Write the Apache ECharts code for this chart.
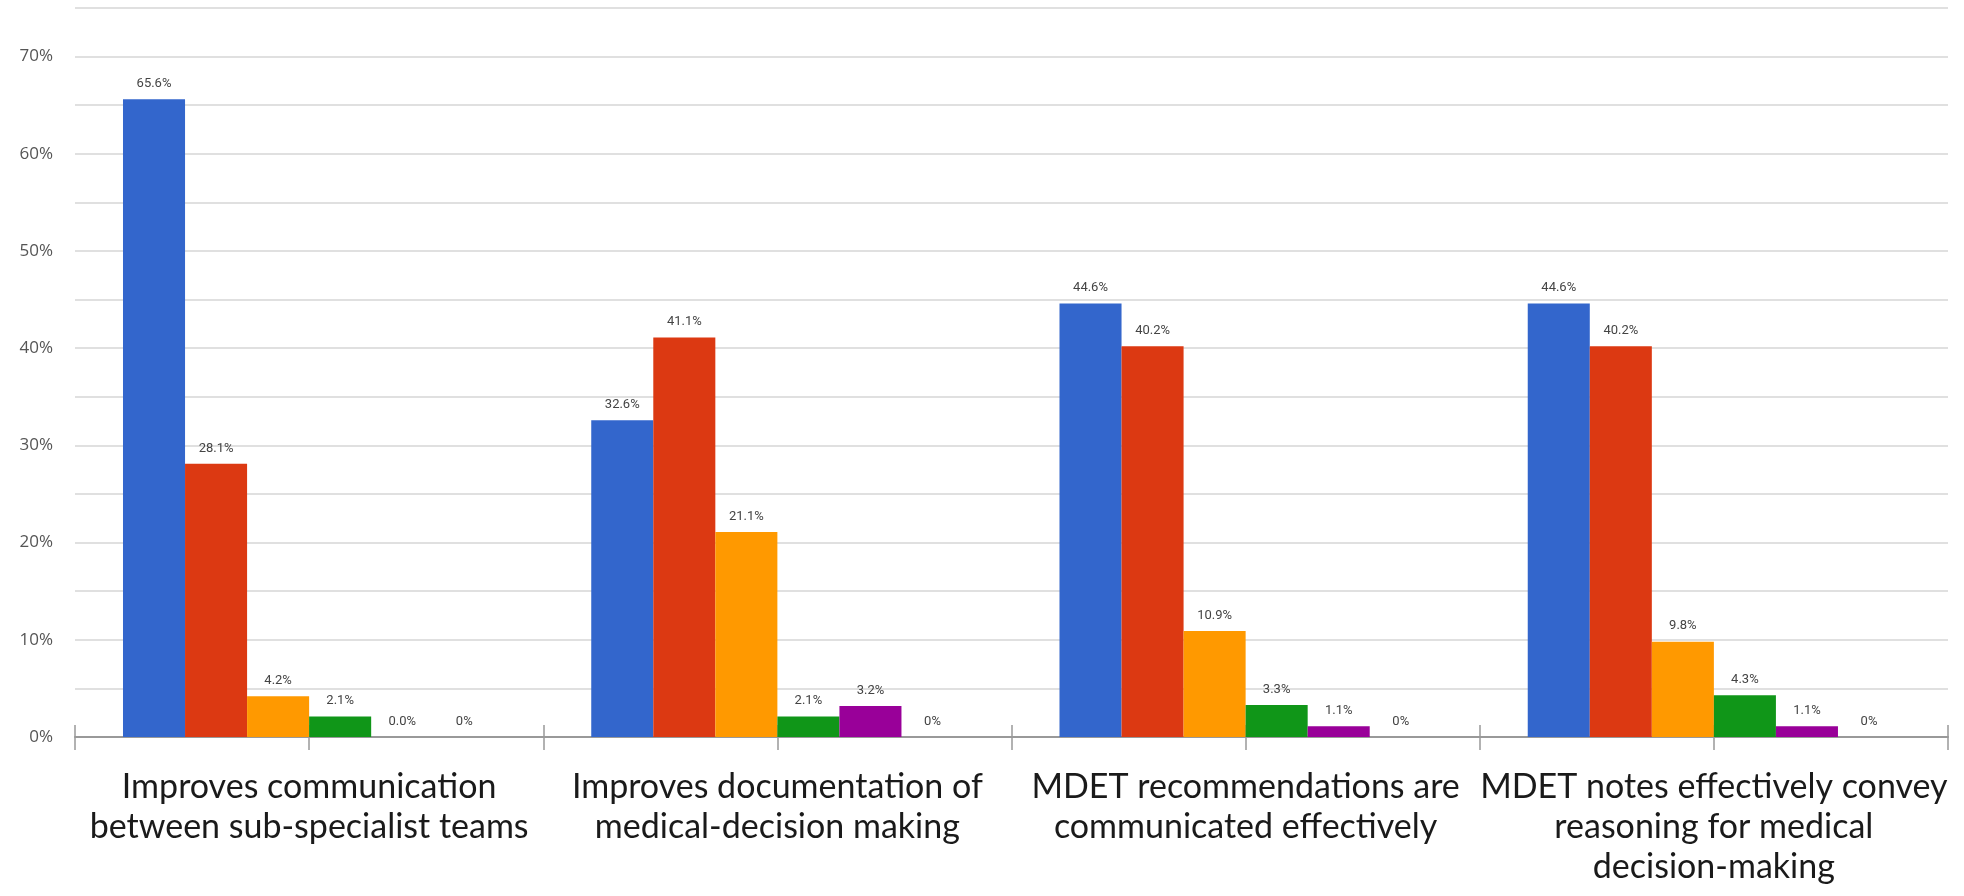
<!DOCTYPE html>
<html>
<head>
<meta charset="utf-8">
<script src="https://cdn.jsdelivr.net/npm/echarts@6/dist/echarts.min.js"></script>
<style>
  html, body { margin: 0; padding: 0; background: #fff; }
  #chart { width: 1964px; height: 896px; }
</style>
</head>
<body>
<div id="chart"></div>
<script>
// categories (line breaks as in the original)
var categories = [
  'Improves communication\nbetween sub-specialist teams',
  'Improves documentation of\nmedical-decision making',
  'MDET recommendations are\ncommunicated effectively',
  'MDET notes effectively convey\nreasoning for medical\ndecision-making'
];

// response shares, % (one array per response level)
var level1 = [65.6, 32.6, 44.6, 44.6];
var level2 = [28.1, 41.1, 40.2, 40.2];
var level3 = [4.2, 21.1, 10.9, 9.8];
var level4 = [2.1, 2.1, 3.3, 4.3];
var level5 = [0.0, 3.2, 1.1, 1.1];
var level6 = [0, 0, 0, 0];

var colors = ['#3366cc', '#dc3912', '#ff9900', '#109618', '#990099', '#0099c6'];
var levels = [level1, level2, level3, level4, level5, level6];

var yTicks = [0, 10, 20, 30, 40, 50, 60, 70];

var myChart = echarts.init(document.getElementById('chart'));

var series = levels.map(function (vals, i) {
  return {
    type: 'bar',
    data: vals,
    xAxisIndex: 0,
    barGap: '0%',
    barCategoryGap: '20.5%',
    itemStyle: { color: colors[i] },
    label: {
      show: true,
      position: 'top',
      distance: 9,
      fontFamily: 'Roboto',
      fontSize: 13,
      color: '#444',
      formatter: function (p) {
        // last level is shown without decimals
        return i === 5 ? p.value + '%' : p.value.toFixed(1) + '%';
      }
    }
  };
});

var tickAxis = function (inside) {
  return {
    type: 'value',
    position: 'bottom',
    min: 0,
    max: 4,
    interval: 0.5,
    axisLine: { show: false },
    axisLabel: { show: false },
    splitLine: { show: false },
    axisTick: { show: true, inside: inside, length: inside ? 12 : 13, lineStyle: { color: '#999', width: 1.5 } }
  };
};

var option = {
  animation: false,
  grid: { left: 75, right: 16, top: 8, bottom: 159 },
  xAxis: [
    {
      type: 'category',
      data: categories,
      axisLine: { lineStyle: { color: '#999', width: 2 } },
      axisTick: { show: false },
      axisLabel: {
        interval: 0,
        margin: 30,
        fontFamily: 'Lato',
        fontSize: 34,
        lineHeight: 40,
        color: '#1a1a1a'
      }
    },
    tickAxis(true),
    tickAxis(false)
  ],
  yAxis: {
    type: 'value',
    min: 0,
    max: 75,
    interval: 5,
    axisLine: { show: false },
    axisTick: { show: false },
    splitLine: { lineStyle: { color: '#d6d6d6', width: 1.5 } },
    axisLabel: {
      margin: 22,
      fontFamily: 'Open Sans',
      fontSize: 17,
      color: '#555',
      formatter: function (v) {
        return yTicks.indexOf(v) >= 0 ? v + '%' : '';
      }
    }
  },
  series: series
};

myChart.setOption(option);
</script>
</body>
</html>
